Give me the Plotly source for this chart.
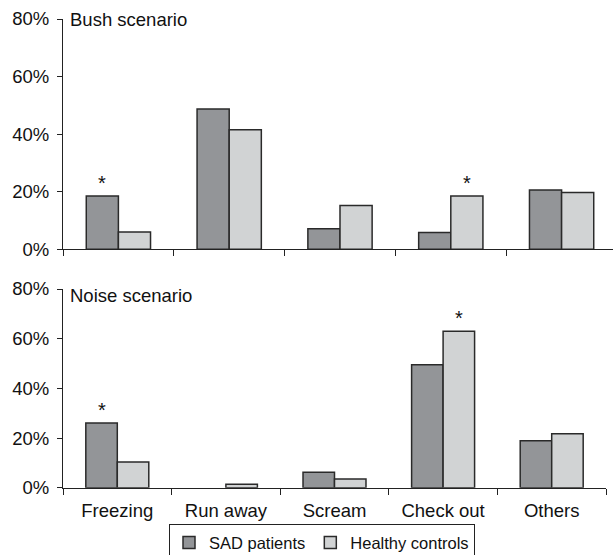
import plotly.graph_objects as go

categories = ["Freezing", "Run away", "Scream", "Check out", "Others"]
series_names = ["SAD patients", "Healthy controls"]

bush_sad = [18.5, 48.7, 7.1, 5.8, 20.6]
bush_hc = [6.0, 41.5, 15.2, 18.5, 19.7]
noise_sad = [26.0, 0.0, 6.2, 49.5, 18.9]
noise_hc = [10.3, 1.4, 3.5, 63.0, 21.7]

# significance markers: (category index, series index)
bush_sig = [(0, 0), (3, 1)]
noise_sig = [(0, 0), (3, 1)]

panel_titles = ["Bush scenario", "Noise scenario"]
y_ticks = [0, 20, 40, 60, 80]

colors = ["#939598", "#d1d3d4"]
edge = "#2a2a2a"
FONT = "Liberation Sans, Arial, sans-serif"
W, H = 613, 555
BARGAP = 0.42

fig = go.Figure()

panels = [
    (bush_sad, bush_hc, bush_sig, "x", "y"),
    (noise_sad, noise_hc, noise_sig, "x2", "y2"),
]
for pi, (sad, hc, sig, xa, ya) in enumerate(panels):
    for si, vals in enumerate([sad, hc]):
        fig.add_trace(go.Bar(
            x=categories, y=vals, name=series_names[si],
            marker=dict(color=colors[si],
                        line=dict(color=edge, width=[1.5 if v > 0 else 0 for v in vals])),
            xaxis=xa, yaxis=ya, showlegend=(pi == 1),
            legendgroup=series_names[si],
        ))
    data = [sad, hc]
    off = (1 - BARGAP) / 4
    for ci, si in sig:
        fig.add_annotation(
            x=ci + (-off if si == 0 else off), y=data[si][ci],
            xref=xa, yref=ya, text="*", showarrow=False,
            yanchor="bottom", yshift=0,
            font=dict(size=20, color="#111", family=FONT),
        )

left = 63 / W
axis_common = dict(
    showline=True, linecolor="#222", linewidth=1.2,
    ticks="outside", ticklen=6, tickcolor="#222", tickwidth=1.2,
    showgrid=False, zeroline=False, automargin=False,
    tickfont=dict(size=18.5, color="#111", family=FONT),
)
cat_w_top = (617 - 63) / 5.0
top_max = -0.5 + (W - 63) / cat_w_top

fig.update_layout(
    width=W, height=H,
    margin=dict(l=0, r=0, t=0, b=0, autoexpand=False),
    paper_bgcolor="white", plot_bgcolor="white",
    barmode="group", bargap=BARGAP, bargroupgap=0,
    font=dict(family=FONT, size=18, color="#111"),
    xaxis=dict(axis_common, domain=[left, 1.0], range=[-0.5, top_max],
               tickson="boundaries", showticklabels=False, anchor="y",
               type="category", categoryorder="array", categoryarray=categories),
    yaxis=dict(axis_common, domain=[(H - 249.3) / H, (H - 19) / H], range=[0, 80],
               tickvals=y_ticks, ticktext=[f"{v}%" for v in y_ticks], ticklen=5,
               ticklabelstandoff=4, anchor="x"),
    xaxis2=dict(axis_common, domain=[left, 606 / W], range=[-0.5, 4.5],
                tickson="boundaries", anchor="y2", ticklabelstandoff=6,
                type="category", categoryorder="array", categoryarray=categories),
    yaxis2=dict(axis_common, domain=[(H - 487.7) / H, (H - 289) / H], range=[0, 80],
                tickvals=y_ticks, ticktext=[f"{v}%" for v in y_ticks], ticklen=5,
                ticklabelstandoff=4, anchor="x2"),
    legend=dict(orientation="h", x=322 / W, xanchor="center", y=(H - 524) / H,
                yanchor="top", bordercolor="#222", borderwidth=1.2,
                font=dict(size=16.5, color="#111", family=FONT),
                itemwidth=30, tracegroupgap=0, bgcolor="white"),
)

fig.add_annotation(x=68 / W, y=(H - 20) / H, xref="paper", yref="paper",
                   text=panel_titles[0], showarrow=False, xanchor="left",
                   yanchor="middle", font=dict(size=18.5, color="#111", family=FONT))
fig.add_annotation(x=68 / W, y=(H - 295) / H, xref="paper", yref="paper",
                   text=panel_titles[1], showarrow=False, xanchor="left",
                   yanchor="middle", font=dict(size=18.5, color="#111", family=FONT))

fig.write_html("out.html", config={"displayModeBar": False},
               post_script="document.body.style.margin='0';")
